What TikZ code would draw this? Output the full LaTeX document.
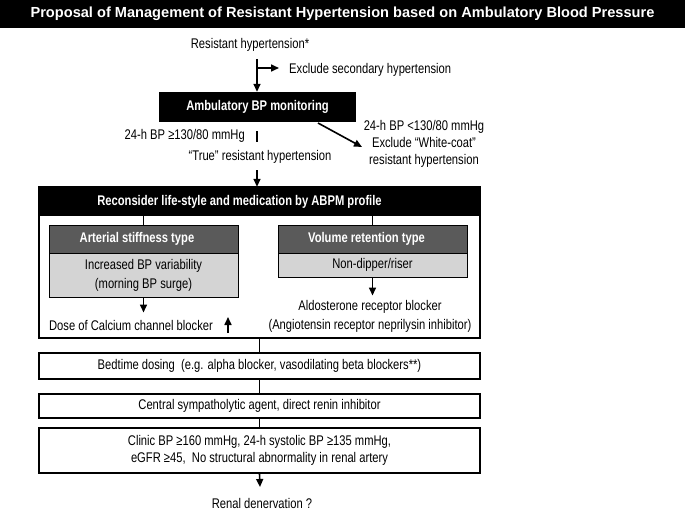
\documentclass[tikz,border=0pt]{standalone}
\usepackage{fontspec}
\setmainfont{Liberation Sans}[FakeStretch=0.8]
\newfontfamily\titlefont{Liberation Sans}
\usetikzlibrary{arrows.meta}
\definecolor{headgrey}{HTML}{5A5A5A}
\definecolor{bodygrey}{HTML}{D4D4D4}
\tikzset{
  txt/.style={font=\fontsize{14}{17}\selectfont, inner sep=0pt, align=center},
  boldtxt/.style={font=\bfseries\fontsize{14}{16}\selectfont, text=white, inner sep=0pt},
  blackbar/.style={boldtxt, fill=black},
  typehead/.style={draw=black, line width=1pt, fill=headgrey, minimum width=189pt, minimum height=28pt},
  typebody/.style={txt, draw=black, line width=1pt, fill=bodygrey, minimum width=189pt, font=\fontsize{14}{19}\selectfont},
  stepbox/.style={txt, draw=black, line width=1.2pt, minimum width=441pt},
  arr/.style={-{Triangle[length=8pt,width=7pt]}, line width=1.6pt},
  link/.style={line width=1.6pt}
}
\begin{document}
\begin{tikzpicture}[x=1pt,y=-1pt]
\useasboundingbox (0,0) rectangle (685,511);
% title
\node[blackbar, font=\titlefont\bfseries\fontsize{14.6}{17}\selectfont, minimum width=685pt, minimum height=28pt] (title) at (342.5,14)
  {Proposal of Management of Resistant Hypertension based on Ambulatory Blood Pressure};

% top part
\node[txt] (resist) at (250,45) {Resistant hypertension*};
\node[blackbar, minimum width=197pt, minimum height=30pt] (abpm) at (257.5,107) {Ambulatory BP monitoring};
\coordinate (top) at (257,59);
\coordinate (fork) at (257,68);
\coordinate (forktip) at (279,68);
\node[txt, anchor=west] (second) at (289,70) {Exclude secondary hypertension};
\draw[arr] (top) -- (top |- abpm.north);
\draw[arr] (fork) -- (forktip);

\node[txt, anchor=east] (high) at (245,136) {24-h BP ≥130/80 mmHg};
\node[txt] (true) at (260,157) {“True” resistant hypertension};
\coordinate (segtop) at (257,131);
\coordinate (segbot) at (257,142);
\draw[link] (segtop) -- (segbot);

\coordinate (wcfrom) at (318,123);
\coordinate (wcto) at (362,147);
\draw[arr] (wcfrom) -- (wcto);
\node[txt] (white) at (424,144) {24-h BP <130/80 mmHg\\Exclude “White-coat”\\resistant hypertension};

% reconsider block
\node[draw=black, line width=1.2pt, minimum width=441pt, minimum height=151pt, inner sep=0pt] (frame) at (259.5,262.5) {};
\node[blackbar, minimum width=441pt, minimum height=29pt] (recon) at (259.5,201.5) {};
\node[boldtxt] (recontxt) at (239.5,201.5) {Reconsider life-style and medication by ABPM profile};
\coordinate (truearr) at (257,170);
\draw[arr] (truearr) -- (truearr |- recon.north);

\node[typehead] (stiffhead) at (143.5,239) {};
\node[boldtxt] (stifftxt) at (137,239) {Arterial stiffness type};
\node[typebody, minimum height=44pt] (stiffbody) at (143.5,275) {Increased BP variability\\(morning BP surge)};
\node[typehead] (volhead) at (372.5,239) {};
\node[boldtxt] (voltxt) at (366.5,239) {Volume retention type};
\node[typebody, minimum height=24pt] (volbody) at (372.5,265) {Non-dipper/riser};
\draw[link] (stiffhead.north) -- (stiffhead.north |- recon.south);
\draw[link] (volhead.north) -- (volhead.north |- recon.south);

\node[txt] (dose) at (131,325) {Dose of Calcium channel blocker};
\draw[arr] (stiffbody.south) -- ++(0,15);
\coordinate (upbase) at (228,333);
\coordinate (uptip) at (228,317);
\draw[arr] (upbase) -- (uptip);
\node[txt, font=\fontsize{14}{19}\selectfont] (aldo) at (370,316.5)
  {Aldosterone receptor blocker\\(Angiotensin receptor neprilysin inhibitor)};
\draw[arr] (volbody.south) -- ++(0,18);

% lower steps
\node[stepbox, minimum height=26pt] (bed) at (259.5,366)
  {Bedtime dosing\ \ (e.g. alpha blocker, vasodilating beta blockers**)};
\node[stepbox, minimum height=24pt] (central) at (259.5,406)
  {Central sympatholytic agent, direct renin inhibitor};
\node[stepbox, minimum height=45pt] (clinic) at (259.5,450.5)
  {Clinic BP ≥160 mmHg, 24-h systolic BP ≥135 mmHg,\\eGFR ≥45,\ \ No structural abnormality in renal artery};
\node[txt] (renal) at (262,503) {Renal denervation ?};
\coordinate (renaltip) at (260,487);

\draw[link] (frame.south -| bed.north) -- (bed.north);
\draw[link] (bed.south) -- (central.north);
\draw[link] (central.south) -- (clinic.north);
\draw[arr] (clinic.south) -- (renaltip);
\end{tikzpicture}
\end{document}
